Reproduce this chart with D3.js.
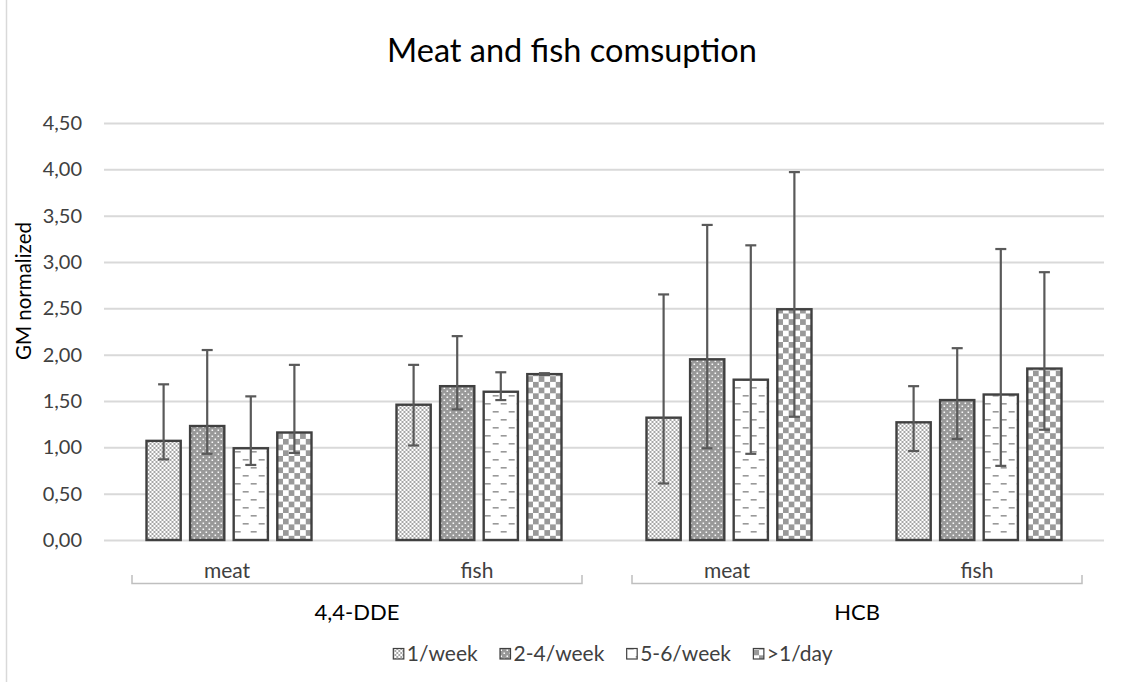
<!DOCTYPE html>
<html>
<head>
<meta charset="utf-8">
<script src="https://cdn.jsdelivr.net/npm/d3@7"></script>
<style>
  body { margin: 0; background: #fff; }
  svg { display: block; font-family: Lato, "Open Sans", sans-serif; }
</style>
</head>
<body>
<svg id="chart" width="1134" height="682"></svg>
<script>
// data
const compounds = ['4,4-DDE', 'HCB'];
const foods = ['meat', 'fish'];
const series = ['1/week', '2-4/week', '5-6/week', '>1/day'];
const yTicks = [0, 0.5, 1, 1.5, 2, 2.5, 3, 3.5, 4, 4.5];

// one value per group: DDE meat, DDE fish, HCB meat, HCB fish
const gm = {
	'1/week':   [1.07, 1.46, 1.32, 1.27],
	'2-4/week': [1.23, 1.66, 1.95, 1.51],
	'5-6/week': [0.99, 1.60, 1.73, 1.57],
	'>1/day':   [1.16, 1.79, 2.49, 1.85]
};
const lower = {
	'1/week':   [0.87, 1.02, 0.61, 0.96],
	'2-4/week': [0.93, 1.41, 0.99, 1.09],
	'5-6/week': [0.81, 1.51, 0.93, 0.80],
	'>1/day':   [0.94, 1.78, 1.33, 1.19]
};
const upper = {
	'1/week':   [1.68, 1.89, 2.65, 1.66],
	'2-4/week': [2.05, 2.20, 3.40, 2.07],
	'5-6/week': [1.55, 1.81, 3.18, 3.14],
	'>1/day':   [1.89, 1.80, 3.97, 2.89]
};

const groups = [];
compounds.forEach((c) => foods.forEach((f) => groups.push(c + '|' + f)));

const svg = d3.select('#chart');
const plot = { left: 104, right: 1104, top: 123, bottom: 540 };

const x0 = d3.scaleBand().domain(groups).range([plot.left, plot.right]);
const x1 = d3.scaleBand().domain(series).range([42.5, x0.bandwidth() - 42.5]).paddingInner(0.215);
const xOuter = d3.scaleBand().domain(compounds).range([plot.left, plot.right]);
const y = d3.scaleLinear().domain([0, 4.5]).range([plot.bottom, plot.top]);

const comma = d3.formatLocale({ decimal: ',', thousands: '.', grouping: [3], currency: ['', ''] });

// patterns
const defs = svg.append('defs');
const grey = '#999';
const pat = (id, w, h) => defs.append('pattern').attr('id', id)
	.attr('patternUnits', 'userSpaceOnUse').attr('width', w).attr('height', h);

let p = pat('p0', 4, 4);
p.append('rect').attr('width', 4).attr('height', 4).attr('fill', '#fff');
p.append('path').attr('d', 'M0,0L4,4M4,0L0,4').attr('stroke', '#a6a6a6').attr('stroke-width', 1);

p = pat('p1', 6, 6);
p.append('rect').attr('width', 6).attr('height', 6).attr('fill', grey);
p.append('rect').attr('x', 0.5).attr('y', 0.5).attr('width', 1.5).attr('height', 1.5).attr('fill', '#fff');
p.append('rect').attr('x', 3.5).attr('y', 3.5).attr('width', 1.5).attr('height', 1.5).attr('fill', '#fff');

p = pat('p2', 16, 16);
p.append('rect').attr('width', 16).attr('height', 16).attr('fill', '#fff');
p.append('rect').attr('x', 1).attr('y', 3).attr('width', 6).attr('height', 1.6).attr('fill', grey);
p.append('rect').attr('x', 9).attr('y', 11).attr('width', 6).attr('height', 1.6).attr('fill', grey);

p = pat('p3', 11.4, 11.4);
p.append('rect').attr('width', 11.4).attr('height', 11.4).attr('fill', '#fff');
p.append('rect').attr('width', 5.7).attr('height', 5.7).attr('fill', grey);
p.append('rect').attr('x', 5.7).attr('y', 5.7).attr('width', 5.7).attr('height', 5.7).attr('fill', grey);

const fillOf = (s) => 'url(#p' + series.indexOf(s) + ')';

// chart border (left edge only visible)
svg.append('line').attr('x1', 6.5).attr('x2', 6.5).attr('y1', 0).attr('y2', 682)
	.attr('stroke', '#d9d9d9').attr('stroke-width', 1.5);

// title
svg.append('text').attr('x', 572).attr('y', 62).attr('text-anchor', 'middle')
	.attr('font-size', 32.5).attr('fill', '#000').text('Meat and fish comsuption');

// y axis + gridlines
const yAxis = svg.append('g').attr('transform', `translate(${plot.left},0)`)
	.call(d3.axisLeft(y).tickValues(yTicks).tickSize(-(plot.right - plot.left)).tickPadding(22)
		.tickFormat(comma.format('.2f')));
yAxis.select('.domain').remove();
yAxis.selectAll('.tick line').attr('stroke', '#d9d9d9').attr('stroke-width', 2);
yAxis.selectAll('.tick text').attr('font-size', 20).attr('fill', '#404040')
	.attr('font-family', 'Lato, "Open Sans", sans-serif');

svg.append('text').attr('transform', 'translate(31,291) rotate(-90)').attr('text-anchor', 'middle')
	.attr('font-size', 20.5).attr('fill', '#000').text('GM normalized');

// bars
const rows = [];
groups.forEach((g, gi) => series.forEach((s) => {
	rows.push({ g, s, v: gm[s][gi], lo: lower[s][gi], hi: upper[s][gi] });
}));

const bar = svg.append('g').selectAll('g').data(rows).join('g')
	.attr('transform', (d) => `translate(${x0(d.g) + x1(d.s)},0)`);

bar.append('rect')
	.attr('y', (d) => y(d.v))
	.attr('width', x1.bandwidth())
	.attr('height', (d) => y(0) - y(d.v))
	.attr('fill', (d) => fillOf(d.s))
	.attr('stroke', '#404040').attr('stroke-width', 2.4);

// error bars
const cx = x1.bandwidth() / 2;
const err = bar.append('g').attr('stroke', '#595959').attr('stroke-width', 2.2);
err.append('line').attr('x1', cx).attr('x2', cx).attr('y1', (d) => y(d.lo)).attr('y2', (d) => y(d.hi));
err.append('line').attr('x1', cx - 5.5).attr('x2', cx + 5.5).attr('y1', (d) => y(d.hi)).attr('y2', (d) => y(d.hi));
err.append('line').attr('x1', cx - 5.5).attr('x2', cx + 5.5).attr('y1', (d) => y(d.lo)).attr('y2', (d) => y(d.lo));

// category labels
svg.append('g').selectAll('text').data(groups).join('text')
	.attr('x', (d) => x0(d) + x0.bandwidth() / 2 - 2)
	.attr('y', 578).attr('text-anchor', 'middle')
	.attr('font-size', 21).attr('fill', '#404040')
	.text((d) => d.split('|')[1]);

const brk = svg.append('g').attr('fill', 'none').attr('stroke', '#bfbfbf').attr('stroke-width', 1.5);
brk.selectAll('path').data(compounds).join('path')
	.attr('d', (c) => {
		const a = xOuter(c) + 28, b = xOuter(c) + xOuter.bandwidth() - 22;
		return `M${a},575V583.5H${b}V575`;
	});

svg.append('g').selectAll('text').data(compounds).join('text')
	.attr('x', (c) => xOuter(c) + xOuter.bandwidth() / 2 + 3)
	.attr('y', 620).attr('text-anchor', 'middle')
	.attr('font-size', 22).attr('fill', '#000').text((c) => c);

// legend
const legend = svg.append('g').attr('transform', 'translate(0,661)');
const items = legend.selectAll('g').data(series).join('g');
items.append('rect').attr('y', -12.5).attr('width', 10.5).attr('height', 10.5)
	.attr('fill', (s) => fillOf(s)).attr('stroke', '#404040').attr('stroke-width', 1.2);
items.append('text').attr('x', 13.5).attr('font-size', 21).attr('fill', '#404040').text((s) => s);

let widths = [];
items.each(function () { widths.push(this.getBBox().width); });
const total = d3.sum(widths) + 22 * (widths.length - 1);
let pos = 613 - total / 2;
items.attr('transform', (s, i) => {
	const t = `translate(${pos},0)`;
	pos += widths[i] + 22;
	return t;
});
</script>
</body>
</html>
